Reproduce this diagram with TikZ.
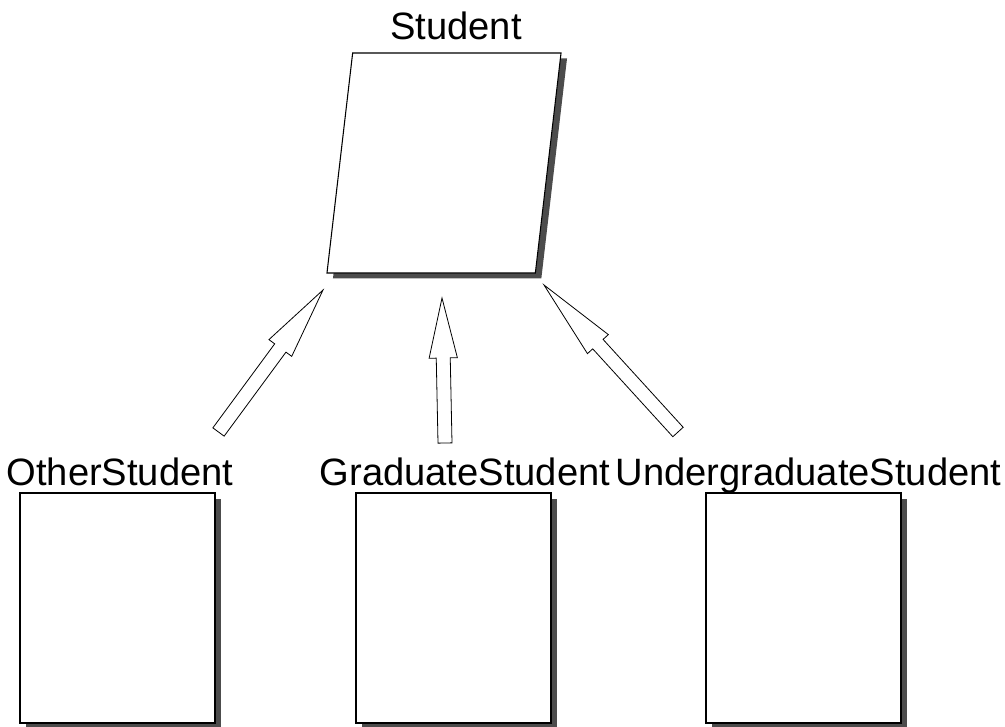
\documentclass[tikz,border=0pt]{standalone}
\usepackage{fontspec}
\setmainfont{Liberation Sans}
\usetikzlibrary{shapes.geometric,shadows,calc}

\tikzset{
  classbox/.style={draw, line width=1.5pt, fill=white, inner sep=0pt,
    minimum width=146.25pt, minimum height=172.5pt,
    drop shadow={shadow xshift=4.5pt, shadow yshift=-4.5pt, fill=black!70, opacity=1}},
  superbox/.style={draw, line width=0.8pt, fill=white, inner sep=1pt,
    trapezium, trapezium left angle=82, trapezium right angle=98, trapezium stretches=true,
    minimum width=175.5pt, minimum height=165pt,
    drop shadow={shadow xshift=4.5pt, shadow yshift=-4pt, fill=black!70, opacity=1}},
  classname/.style={anchor=base, inner sep=0pt, font=\fontsize{28.6}{34}\selectfont},
  isa/.style={draw, line width=0.6pt, fill=white, line join=miter}
}

% hollow inheritance arrow: #1 tail, #2 tip, #3 head length
\newcommand{\isaarrow}[3]{%
  \coordinate (neck) at ($(#2)!#3!(#1)$);
  \draw[isa] ($(#1)!5.25pt!90:(#2)$) -- ($(neck)!5.25pt!-90:(#1)$) -- ($(neck)!10.6pt!-90:(#1)$)
    -- (#2) -- ($(neck)!10.6pt!90:(#1)$) -- ($(neck)!5.25pt!90:(#1)$) -- ($(#1)!5.25pt!-90:(#2)$) -- cycle;}

\begin{document}
\begin{tikzpicture}[x=0.75pt,y=0.75pt,yscale=-1,xscale=1]
\useasboundingbox (0,0) rectangle (1005,727);

%Shape: Parallelogram
\node[superbox] (student) at (444,163) {};
\node[classname] (studentname) at (456,40) {Student};

%Shape: Rectangle
\node[classbox] (other) at (117.5,608) {};
\node[classname] (othername) at (120,485) {OtherStudent};
%Shape: Rectangle
\node[classbox] (grad) at (453.5,608) {};
\node[classname] (gradname) at (465,485) {GraduateStudent};
%Shape: Rectangle
\node[classbox] (undergrad) at (803,608) {};
\node[classname] (undergradname) at (808.5,485) {UndergraduateStudent};

%Arrow ends
\coordinate (otherfoot) at (218.5,432);
\coordinate (othertip) at (323,290);
\coordinate (gradfoot) at (445,443);
\coordinate (gradtip) at (442,298);
\coordinate (undergradfoot) at (678,432);
\coordinate (undergradtip) at (544,285);

%Block Arrows
\isaarrow{otherfoot}{othertip}{54pt}
\isaarrow{gradfoot}{gradtip}{45pt}
\isaarrow{undergradfoot}{undergradtip}{60pt}

\end{tikzpicture}
\end{document}
